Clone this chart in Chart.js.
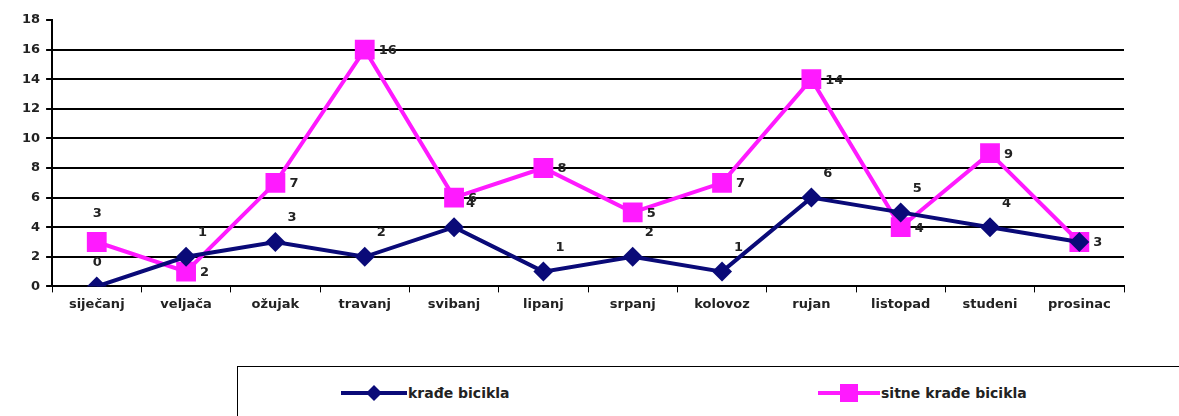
<!DOCTYPE html>
<html>
<head>
<meta charset="utf-8">
<script src="https://cdn.jsdelivr.net/npm/chart.js@4"></script>
<style>
  body { margin: 0; background: #fff; }
  #wrap { position: relative; width: 1179px; height: 416px; }
  #graf { position: absolute; left: 0; top: 0; }
  #legenda {
    position: absolute; left: 237px; top: 366px; width: 960px; height: 60px;
    border: 1px solid #000; box-sizing: border-box;
    font: bold 14px "DejaVu Sans", sans-serif; color: #222;
  }
  .stavka { position: absolute; top: 16px; display: flex; align-items: center; }
  .stavka canvas { margin-right: 1px; }
</style>
</head>
<body>
<div id="wrap">
  <canvas id="graf" width="1179" height="316"></canvas>
  <div id="legenda">
    <div class="stavka" style="left:103px"><canvas id="ikona1" width="66" height="20"></canvas>krađe bicikla</div>
    <div class="stavka" style="left:580px"><canvas id="ikona2" width="62" height="20"></canvas>sitne krađe bicikla</div>
  </div>
</div>
<script>
// mjeseci i podaci
const mjeseci = ['siječanj', 'veljača', 'ožujak', 'travanj', 'svibanj', 'lipanj', 'srpanj', 'kolovoz', 'rujan', 'listopad', 'studeni', 'prosinac'];
const krade = [0, 2, 3, 2, 4, 1, 2, 1, 6, 5, 4, 3];
const sitneKrade = [3, 1, 7, 16, 6, 8, 5, 7, 14, 4, 9, 3];
// oznake kako su ispisane na slici (zadnja plava se ne vidi)
const kradeOznake = [0, 1, 3, 2, 4, 1, 2, 1, 6, 5, 4, null];
const sitneOznake = [3, 2, 7, 16, 6, 8, 5, 7, 14, 4, 9, 3];
const yOznake = [0, 2, 4, 6, 8, 10, 12, 14, 16, 18];

const NAVY = '#0a0a78';
const ROZA = '#ff1aff';
const FONT = '"DejaVu Sans", sans-serif';

// plugin za brojeve pored tocaka
const oznakePlugin = {
  id: 'oznake',
  afterDatasetsDraw(chart) {
    const ctx = chart.ctx;
    ctx.save();
    ctx.font = 'bold 13px ' + FONT;
    ctx.fillStyle = '#222';
    ctx.textBaseline = 'middle';
    ctx.textAlign = 'left';
    chart.getDatasetMeta(0).data.forEach((p, i) => {
      if (kradeOznake[i] === null) return;
      const dx = i === 0 ? -4 : 12;
      ctx.fillText(kradeOznake[i], p.x + dx, p.y - 24);
    });
    chart.getDatasetMeta(1).data.forEach((p, i) => {
      if (i === 0) ctx.fillText(sitneOznake[i], p.x - 4, p.y - 28);
      else ctx.fillText(sitneOznake[i], p.x + 14, p.y + 1);
    });
    ctx.restore();
  }
};

new Chart(document.getElementById('graf'), {
  type: 'line',
  data: {
    labels: mjeseci,
    datasets: [
      {
        label: 'krađe bicikla', data: krade,
        borderColor: NAVY, backgroundColor: NAVY, borderWidth: 4,
        pointStyle: 'rectRot', pointRadius: 10, pointBorderWidth: 0, tension: 0
      },
      {
        label: 'sitne krađe bicikla', data: sitneKrade,
        borderColor: ROZA, backgroundColor: ROZA, borderWidth: 4,
        pointStyle: 'rect', pointRadius: 14, pointBorderWidth: 0, tension: 0
      }
    ]
  },
  options: {
    responsive: false,
    animation: false,
    layout: { padding: { left: 16, right: 55, top: 20, bottom: 0 } },
    plugins: { legend: { display: false }, tooltip: { enabled: false } },
    scales: {
      x: {
        offset: true,
        grid: { offset: true, drawOnChartArea: false, color: '#000', tickLength: 6, tickColor: '#000' },
        border: { color: '#000', width: 2 },
        ticks: { color: '#222', font: { family: FONT, size: 13, weight: 'bold' }, padding: 4, maxRotation: 0, autoSkip: false }
      },
      y: {
        min: 0, max: 18,
        afterBuildTicks: axis => { axis.ticks = yOznake.map(v => ({ value: v })); },
        grid: {
          color: c => (c.tick && c.tick.value === 18) ? 'rgba(0,0,0,0)' : '#000',
          lineWidth: 2, tickLength: 6, tickColor: '#000', drawTicks: true
        },
        border: { color: '#000', width: 2 },
        ticks: { color: '#222', font: { family: FONT, size: 13, weight: 'bold' }, padding: 6 }
      }
    }
  },
  plugins: [oznakePlugin]
});

// ikone legende
function ikona(id, boja, oblik, w) {
  const c = document.getElementById(id).getContext('2d');
  c.fillStyle = boja;
  c.fillRect(0, 8, w, 4);
  c.beginPath();
  if (oblik === 'romb') {
    c.moveTo(33, 2); c.lineTo(41, 10); c.lineTo(33, 18); c.lineTo(25, 10);
  } else {
    c.rect(22, 1, 18, 18);
  }
  c.fill();
}
ikona('ikona1', NAVY, 'romb', 66);
ikona('ikona2', ROZA, 'kvadrat', 62);
</script>
</body>
</html>
